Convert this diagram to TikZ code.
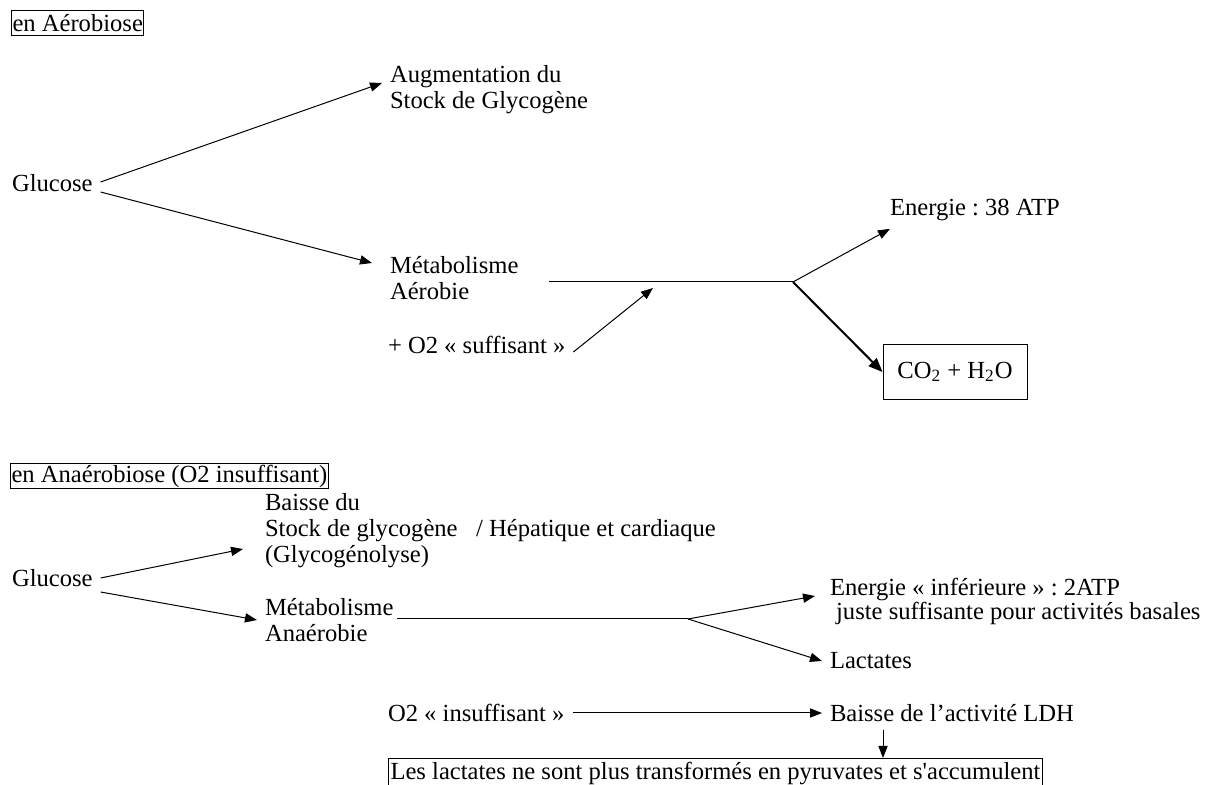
\documentclass[tikz,border=0pt]{standalone}
\usepackage{fontspec}
\setmainfont{Liberation Serif}
\usetikzlibrary{arrows.meta}
\frenchspacing
\tikzset{
  >={Triangle[length=6pt,width=4.6pt]},
  txt/.style={inner sep=0pt, outer sep=4pt, anchor=west, align=left},
  boxed/.style={draw, inner sep=1pt, anchor=west},
}
\begin{document}
\begin{tikzpicture}[x=0.5pt, y=-0.5pt, line width=0.5pt, font=\fontsize{12.3}{13}\selectfont]
    \useasboundingbox (0,0) rectangle (1211,785);
    % en aerobiose
    \node[boxed, inner xsep=0.5pt, inner ysep=2pt] (titA) at (11,23) {en Aérobiose};
    \node[txt] (glucA) at (4,183) {Glucose};
    \node[txt] (stockA) at (382,90) {Augmentation du\\Stock de Glycogène};
    \node[txt] (metaA) at (382,278) {Métabolisme\\Aérobie};
    \node[txt] (oxyA) at (380,345) {+ O2 « suffisant »};
    \node[txt] (enerA) at (882,210) {Energie : 38 ATP};
    \node[draw, minimum width=72pt, minimum height=27.5pt, inner sep=0pt] (co2) at (955,372) {CO\textsubscript{2} + H\textsubscript{2}O};
    \coordinate (hA) at (549,282);
    \coordinate (jA) at (793,282);
    \coordinate (inA) at (653,288);
    \draw[->] ([yshift=0.5pt]glucA.east) to ([yshift=3.5pt]stockA.west);
    \draw[->] ([yshift=-4.5pt]glucA.east) to ([shift={(-5pt,7.5pt)}]metaA.west);
    \draw (hA) -- (jA);
    \draw[->] ([yshift=-3.5pt]oxyA.east) to (inA);
    \draw[->] (jA) to ([xshift=4pt]enerA.south west);
    \draw[-{Triangle[length=7pt,width=5.6pt]}, line width=1pt] (jA) to (co2.west);
    % en anaerobiose
    \node[boxed, inner sep=0.5pt] (titB) at (10,476) {en Anaérobiose (O2 insuffisant)};
    \node[txt] (glucB) at (4,578) {Glucose};
    \node[txt] (baisse) at (257,531) {Baisse du\\Stock de glycogène\ \ \ / Hépatique et cardiaque\\(Glycogénolyse)};
    \node[txt] (metaB) at (257,620) {Métabolisme\\Anaérobie};
    \node[txt] (enerB) at (822,601) {Energie « inférieure » : 2ATP\\[-1pt]\hspace{0.25em}juste suffisante pour activités basales};
    \node[txt] (lactB) at (822,661) {Lactates};
    \node[txt] (oxyB) at (380,713) {O2 « insuffisant »};
    \node[txt] (ldh) at (822,713) {Baisse de l’activité LDH};
    \node[draw, anchor=north west, inner xsep=1pt, inner ysep=2pt] (accum) at (388,758) {Les lactates ne sont plus transformés en pyruvates et s\textquotesingle accumulent};
    \coordinate (hB) at (397,619);
    \coordinate (jB) at (688,619);
    \draw[->] (glucB.east) to ([shift={(-7pt,-9pt)}]baisse.west);
    \draw[->] ([yshift=-7pt]glucB.east) to (metaB.west);
    \draw (hB) -- (jB);
    \draw[->] (jB) to ([shift={(-3.5pt,2.5pt)}]enerB.west);
    \draw[->] (jB) to (lactB.west);
    \draw[->] (oxyB.east) to (ldh.west);
    \draw[->] ([xshift=30.5pt]ldh.south west) to ([xshift=30.5pt]ldh.south west |- accum.north);
\end{tikzpicture}
\end{document}
